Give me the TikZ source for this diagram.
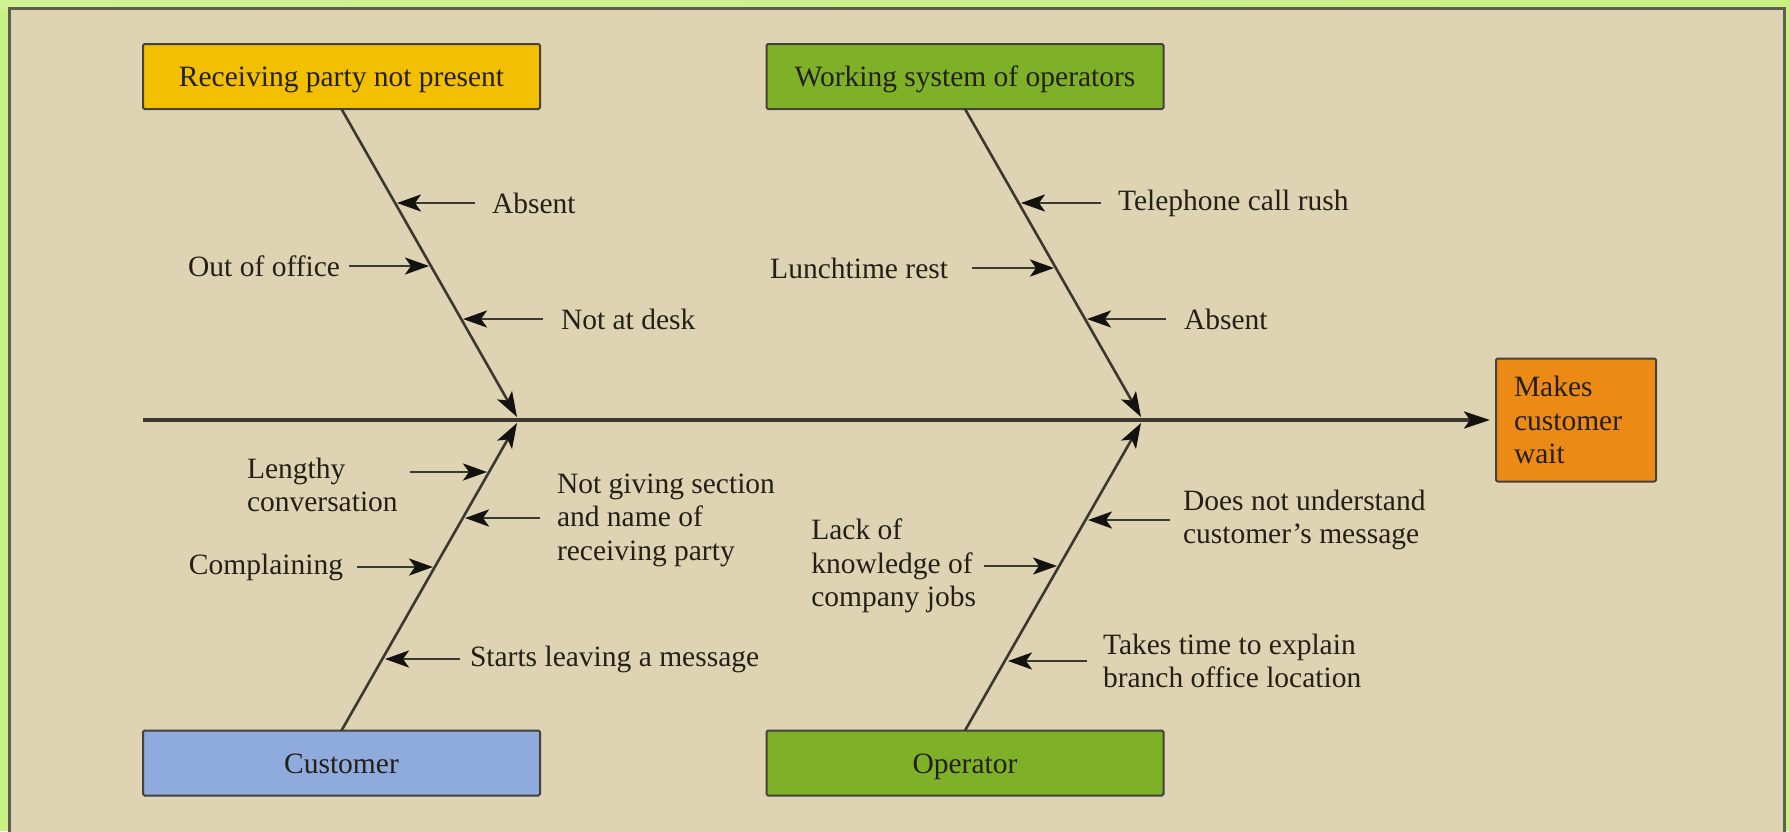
\documentclass[tikz,border=0pt]{standalone}
\usepackage{fontspec}
\setmainfont{Liberation Serif}
\usetikzlibrary{arrows.meta}

\definecolor{frameGreen}{RGB}{200,240,130}
\definecolor{frameLight}{RGB}{238,248,220}
\definecolor{panel}{RGB}{222,211,179}
\definecolor{panelEdge}{RGB}{95,92,80}
\definecolor{ink}{RGB}{36,32,24}
\definecolor{lineC}{RGB}{60,57,48}
\definecolor{headC}{RGB}{20,18,14}
\definecolor{boxYellow}{RGB}{242,192,0}
\definecolor{boxGreen}{RGB}{126,176,40}
\definecolor{boxBlue}{RGB}{143,170,220}
\definecolor{boxOrange}{RGB}{236,138,22}

\begin{document}
\begin{tikzpicture}[x=1pt,y=-1pt,
  txt/.style={font=\fontsize{29.5}{33.5}\selectfont, text=ink, inner sep=0pt, outer sep=0pt, align=left},
  catbox/.style={txt, draw=ink!85, line width=2pt, rounded corners=1.5pt,
    minimum width=397pt, minimum height=65pt, align=center,
    text height=21pt, text depth=1pt},
  tip/.style={-{Stealth[length=#1,width=17pt,inset=6pt,color=headC]}},
  bone/.style={draw=lineC, line width=2.6pt, tip=25pt},
  cause/.style={draw=lineC, line width=2.8pt, tip=24pt},
  spine/.style={draw=lineC, line width=3.2pt, tip=26pt}]

% surrounding frame and beige panel
\useasboundingbox (0,0) rectangle (1789,831);
\fill[frameGreen] (0,0) rectangle (1789,831);
\shade[left color=frameGreen!80!frameLight, middle color=frameLight, right color=frameGreen]
  (0,0) rectangle (1789,8);
\fill[panel] (9,8) rectangle (1784,845);
\draw[panelEdge, line width=3pt] (9,845) -- (9,8) -- (1784,8) -- (1784,845);

% category boxes
\node[catbox, fill=boxYellow] (rp) at (341.5,76.5) {Receiving party not present};
\node[catbox, fill=boxGreen]  (ws) at (965,76.5)   {Working system of operators};
\node[catbox, fill=boxBlue]   (cu) at (341.5,763)  {Customer};
\node[catbox, fill=boxGreen]  (op) at (965,763)    {Operator};

% effect box
\node[txt, draw=ink!85, line width=2pt, rounded corners=1.5pt, fill=boxOrange,
  text width=124pt, inner xsep=18pt, minimum height=123pt, align=left]
  (mk) at (1576,420) {Makes\\customer\\wait};

% spine and main bones
\coordinate (tail) at (143,420);
\coordinate (j1) at (517,417);
\coordinate (j2) at (1141,417);
\coordinate (j3) at (517,423);
\coordinate (j4) at (1141,423);
\draw[spine, shorten >=6pt] (tail) -- (mk);
\draw[bone] (rp.south) -- (j1);
\draw[bone] (ws.south) -- (j2);
\draw[bone] (cu.north) -- (j3);
\draw[bone] (op.north) -- (j4);

% causes: receiving party not present
\node[txt, anchor=west] (a1) at (492,203) {Absent};
\node[txt, anchor=east] (a2) at (340,266) {Out of office};
\node[txt, anchor=west] (a3) at (561,319) {Not at desk};
\coordinate (ta1) at (397,203);
\coordinate (ta2) at (429,266);
\coordinate (ta3) at (463,319);
\draw[cause, shorten <=17pt] (a1) -- (ta1);
\draw[cause, shorten <=9pt]  (a2) -- (ta2);
\draw[cause, shorten <=18pt] (a3) -- (ta3);

% causes: working system of operators
\node[txt, anchor=west] (b1) at (1118,203) {Telephone call rush};
\node[txt, anchor=east] (b2) at (948,268)  {Lunchtime rest};
\node[txt, anchor=west] (b3) at (1184,319) {Absent};
\coordinate (tb1) at (1021,203);
\coordinate (tb2) at (1054,268);
\coordinate (tb3) at (1087,319);
\draw[cause, shorten <=17pt] (b1) -- (tb1);
\draw[cause, shorten <=24pt] (b2) -- (tb2);
\draw[cause, shorten <=18pt] (b3) -- (tb3);

% causes: customer
\node[txt, anchor=west] (c1) at (247,485) {Lengthy\\conversation};
\node[txt, anchor=west] (c2) at (557,520) {Not giving section\\and name of\\receiving party};
\node[txt, anchor=east] (c3) at (343,567) {Complaining};
\node[txt, anchor=west] (c4) at (470,659) {Starts leaving a message};
\coordinate (tc1) at (487,472);
\coordinate (tc2) at (465,518);
\coordinate (tc3) at (433,567);
\coordinate (tc4) at (385,659);
\draw[cause, shorten <=12pt] (c1.east |- tc1) -- (tc1);
\draw[cause, shorten <=17pt] (c2.west |- tc2) -- (tc2);
\draw[cause, shorten <=14pt] (c3) -- (tc3);
\draw[cause, shorten <=10pt] (c4) -- (tc4);

% causes: operator
\node[txt, anchor=west] (d1) at (1183,520) {Does not understand\\customer’s message};
\node[txt, anchor=east] (d2) at (976,566)  {Lack of\\knowledge of\\company jobs};
\node[txt, anchor=west] (d3) at (1103,661) {Takes time to explain\\branch office location};
\coordinate (td1) at (1088,520);
\coordinate (td2) at (1057,566);
\coordinate (td3) at (1008,661);
\draw[cause, shorten <=13pt] (d1) -- (td1);
\draw[cause, shorten <=8pt]  (d2) -- (td2);
\draw[cause, shorten <=16pt] (d3) -- (td3);
\end{tikzpicture}
\end{document}
